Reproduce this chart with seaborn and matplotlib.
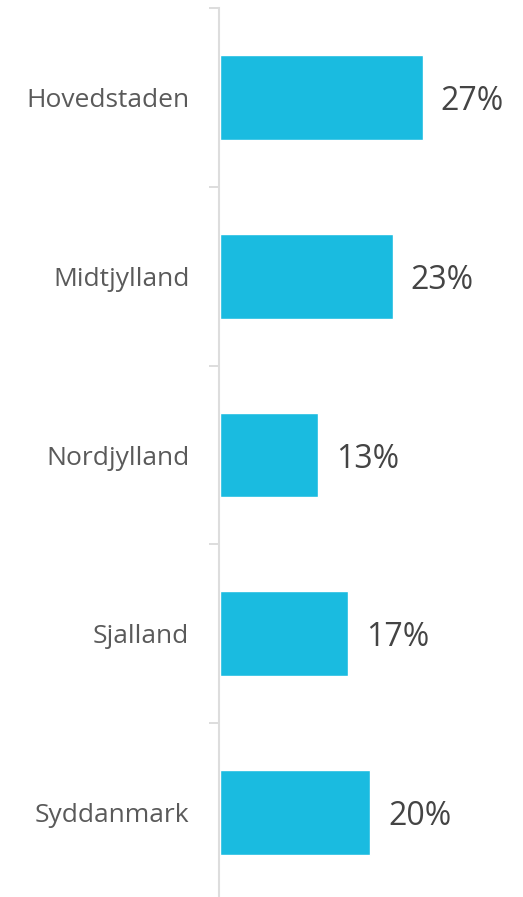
import pandas as pd
import seaborn as sns
import matplotlib
matplotlib.use('Agg')
import matplotlib.pyplot as plt

regioner = ["Hovedstaden", "Midtjylland", "Nordjylland", "Sjalland", "Syddanmark"]
andel = [27, 23, 13, 17, 20]

df = pd.DataFrame({"region": regioner, "andel": andel})

sns.set_style("white")
plt.rcParams['font.family'] = ['Open Sans', 'DejaVu Sans']

fig = plt.figure(figsize=(5.23, 8.97), dpi=100)
# axes placed by pixels: spine at x~218.5, top at y~8
ax = fig.add_axes([218.5 / 523, -5 / 897, (523 - 218.5) / 523, 894 / 897])

sns.barplot(data=df, y="region", x="andel", orient="h", color="#1abbe0",
            width=0.475, saturation=1, ax=ax)

ax.set_xlim(-0.24, 40.36)
ax.set_ylim(4.5, -0.5)

for lab in ax.bar_label(ax.containers[0], fmt="%d%%", padding=13,
                        fontsize=23, color="#444444"):
    lab.set_va("center_baseline")

# ticks at the boundaries, labels in the middle
ax.set_yticks([-0.5, 0.5, 1.5, 2.5, 3.5])
ax.set_yticklabels([])
ax.set_yticks(range(len(regioner)), minor=True)
ax.set_yticklabels(regioner, minor=True, fontsize=19, color="#5a5a5a")
ax.tick_params(axis="y", which="major", length=7.2, width=1.4, color="#dddddd", left=True)
ax.tick_params(axis="y", which="minor", length=0, pad=21)

ax.set_xticks([])
ax.set_xlabel("")
ax.set_ylabel("")
for s in ["top", "right", "bottom"]:
    ax.spines[s].set_visible(False)
ax.spines["left"].set_color("#dddddd")
ax.spines["left"].set_linewidth(1.5)

fig.savefig("out.png", dpi=100)
